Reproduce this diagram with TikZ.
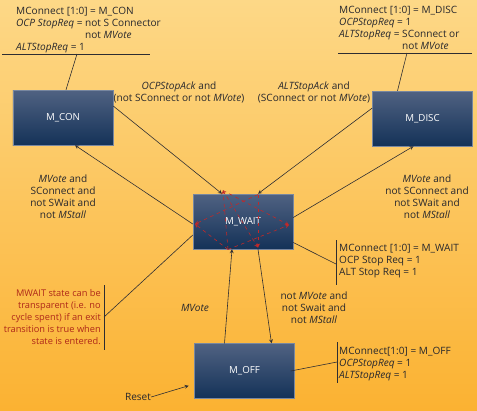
\documentclass[tikz,border=0pt]{standalone}
\usepackage{fontspec}
\setmainfont{Open Sans}
\usepackage{tikz}
\usetikzlibrary{shapes.geometric, arrows, calc}
\definecolor{bgtop}{RGB}{253,216,135}
\definecolor{bgbot}{RGB}{251,178,50}
\definecolor{boxtop}{RGB}{80,98,130}
\definecolor{boxbot}{RGB}{20,50,88}
\definecolor{boxline}{RGB}{120,135,160}
\definecolor{lineclr}{RGB}{45,45,50}
\definecolor{txtclr}{RGB}{40,40,45}
\definecolor{noteclr}{RGB}{175,40,25}
\definecolor{dashclr}{RGB}{195,40,40}
\tikzstyle{state} = [rectangle, minimum width=3cm, minimum height=1.65cm, text centered, top color=boxtop, bottom color=boxbot, draw=boxline, text=white, font=\fontsize{8.3}{10}\selectfont]
\tikzstyle{note} = [inner sep=0pt, align=left, anchor=north west]
\tikzstyle{lbl} = [inner sep=0pt, align=center]
\tikzstyle{arrow} = [draw=lineclr, line width=0.5pt, ->, >=stealth]
\tikzstyle{noteline} = [draw=lineclr, line width=0.5pt]
\tikzstyle{dasharrow} = [draw=dashclr, dashed, line width=0.5pt, ->, >=stealth]
\begin{document}
\begin{tikzpicture}[x=0.03cm, y=-0.03cm, font=\fontsize{8.6}{10.2}\selectfont, text=txtclr]
        \shade [top color=bgtop, bottom color=bgbot] (0,0) rectangle (477,410);
        \useasboundingbox (0,0) rectangle (477,410);
        % states
        \node (con) [state] at (63,117.5) {M\_CON};
        \node (disc) [state] at (422.5,118.5) {M\_DISC};
        \node (wait) [state] at (243,221.5) {M\_WAIT};
        \node (off) [state] at (244.5,371) {M\_OFF};
        % notes
        \node (note1) [note] at (16,7) {MConnect [1:0] = M\_CON\\\textit{OCP StopReq} = not S Connector\\\phantom{\textit{OCP StopReq} = }not \textit{MVote}\\\textit{ALTStopReq} = 1};
        \node (note2) [note] at (339,6) {MConnect [1:0] = M\_DISC\\\textit{OCPStopReq} = 1\\\textit{ALTStopReq} = SConnect or\\\phantom{\textit{ALTStopReq} = }not \textit{MVote}};
        \node (note3) [note] at (339,244) {MConnect [1:0] = M\_WAIT\\OCP Stop Req = 1\\ALT Stop Req = 1};
        \node (note4) [note] at (339,347) {MConnect[1:0] = M\_OFF\\\textit{OCPStopReq} = 1\\\textit{ALTStopReq} = 1};
        \node (note5) [note, anchor=north east, align=right, text=noteclr, font=\fontsize{7.9}{10.2}\selectfont] at (101,289) {MWAIT state can be\\transparent (i.e. no\\cycle spent) if an exit\\transition is true when\\state is entered.};
        \coordinate (n1) at (77,54);
        \coordinate (n2) at (407,53);
        \coordinate (n3) at (336,264);
        \coordinate (n4) at (337,362);
        \coordinate (n5) at (104,317);
        \draw [noteline] (2,54) -- (150,54);
        \draw [noteline] (338,53) -- (472,53);
        \draw [noteline] (336,240) -- (336,285);
        \draw [noteline] (337,342) -- (337,383);
        \draw [noteline] (104,285) -- (104,350);
        \draw [noteline] ($(con.north)+(3,0)$) -- (n1);
        \draw [noteline] ($(disc.north)+(-25,0)$) -- (n2);
        \draw [noteline] ($(wait.east)+(0,21)$) -- (n3);
        \draw [noteline] ($(off.east)+(-4,0)$) -- (n4);
        \draw [noteline] ($(wait.west)+(0,13.5)$) -- (n5);
        % labels
        \node (lbl1) [lbl] at (179,92) {\textit{OCPStopAck} and\\(not SConnect or not \textit{MVote})};
        \node (lbl2) [lbl] at (314,92) {\textit{ALTStopAck} and\\(SConnect or not \textit{MVote})};
        \node (lbl3) [lbl] at (63,197) {\textit{MVote} and\\SConnect and\\not SWait and\\not \textit{MStall}};
        \node (lbl4) [lbl] at (427,197) {\textit{MVote} and\\not SConnect and\\not SWait and\\not \textit{MStall}};
        \node (lbl5) [lbl] at (195,308) {\textit{MVote}};
        \node (lbl6) [lbl] at (314,308) {not \textit{MVote} and\\not Swait and\\not \textit{MStall}};
        \node (reset) [lbl] at (138,397) {Reset};
        % transitions
        \draw [arrow] ($(con.east)+(0,-11.5)$) -- ($(wait.north)+(-21,0)$);
        \draw [arrow] ($(disc.west)+(0,-10.5)$) -- ($(wait.north)+(15,0)$);
        \draw [arrow] ($(wait.west)+(0,2.5)$) -- ($(con.south)+(12,0)$);
        \draw [arrow] ($(wait.east)+(0,-4)$) -- ($(disc.south)+(-9,0)$);
        \draw [arrow] ($(off.north)+(-20,0)$) -- ($(wait.south)+(-11,0)$);
        \draw [arrow] ($(wait.south)+(15,0)$) -- ($(off.north)+(27,0)$);
        \draw [arrow, shorten >=5pt] (reset.east) -- ($(off.west)+(0,13)$);
        % transparent paths through M_WAIT
        \coordinate (t1) at ($(wait)+(-20,-31)$);
        \coordinate (t2) at ($(wait)+(15,-27)$);
        \coordinate (l) at ($(wait)+(-48,2.5)$);
        \coordinate (r) at ($(wait)+(46,3.5)$);
        \coordinate (b1) at ($(wait)+(-15,28)$);
        \coordinate (b2) at ($(wait)+(15,26)$);
        \draw [dasharrow] (t1) -- (r);
        \draw [dasharrow] (t1) -- (b2);
        \draw [dasharrow] (t2) -- (l);
        \draw [dasharrow] (t2) -- (b2);
        \draw [dasharrow] (b1) -- (l);
        \draw [dasharrow] (b1) -- (r);
        \draw [dasharrow] (b1) -- (t1);
        \end{tikzpicture}
\end{document}
